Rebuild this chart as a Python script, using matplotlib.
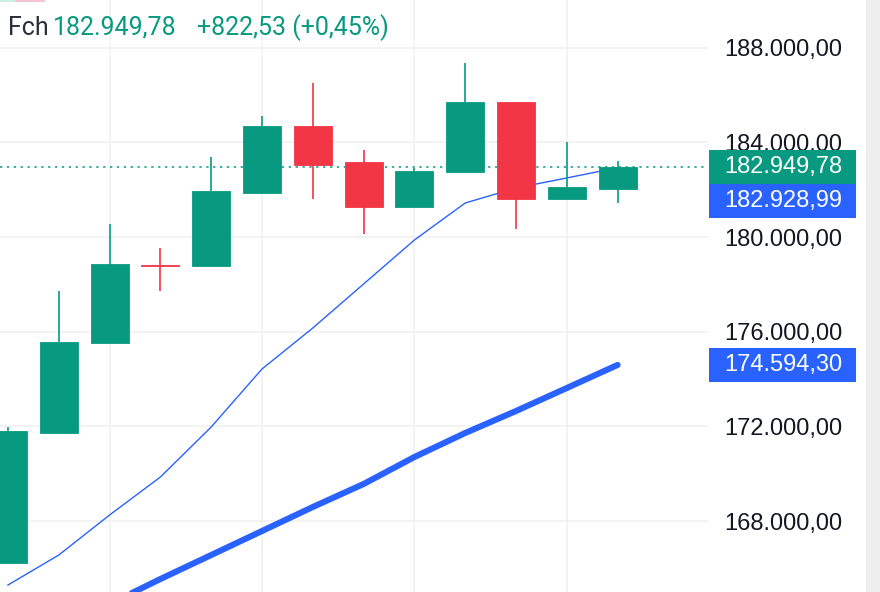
import numpy as np
import matplotlib
matplotlib.use("Agg")
import matplotlib.pyplot as plt
from matplotlib.patches import Rectangle
from matplotlib import transforms

# ---- data ----
opens  = [166225, 171719, 175522, 178800, 178775, 181860, 184691, 183170, 181268, 182747, 185705, 181606, 182029]
closes = [171803, 175564, 178860, 178755, 181944, 184691, 183043, 181268, 182790, 185705, 181606, 182127.25, 182949.78]
highs  = [171972, 177719, 180550, 179536, 183381, 185114, 186508, 183677, 182918, 187353, 185705, 184015, 183212]
lows   = [166225, 171719, 175522, 177719, 178775, 181860, 181606, 180127, 181268, 182747, 180339, 181606, 181437]
ma_fast = [165296, 166563, 168254, 169859, 171972, 174423, 176155, 178015, 179874, 181437, 182071, 182495, 182928.99]
ma_slow = [np.nan, np.nan, 164493, 165549, 166563, 167577, 168592, 169564, 170704, 171719, 172648, 173620, 174594.30]
y_ticks = [168000, 172000, 176000, 180000, 184000, 188000]
y_tick_labels = ["168.000,00", "172.000,00", "176.000,00", "180.000,00", "184.000,00", "188.000,00"]
last_close = 182949.78
header_label = "Fch"
header_price = "182.949,78"
header_change = "+822,53 (+0,45%)"
fast_label = "182.928,99"
slow_label = "174.594,30"
close_label = "182.949,78"

GREEN = "#089981"
RED = "#F23645"
BLUE = "#2962FF"
TXT = "#131722"

W, H = 880, 592
fig = plt.figure(figsize=(W / 100, H / 100), dpi=100)
ax_right_px = 708
ax = fig.add_axes([0, 0, ax_right_px / W, 1])

n = len(opens)
x = np.arange(n)
step_px = 50.8
x0_px = 8
ax.set_xlim(-x0_px / step_px, (ax_right_px - x0_px) / step_px)
ax.set_ylim(165000, 190015)

# grid
ax.set_yticks(y_ticks)
ax.set_yticklabels(y_tick_labels)
ax.set_xticks([2, 5, 8, 11])
ax.set_xticklabels([])
ax.grid(True, color="#f0f0f0", linewidth=1.1)
ax.set_axisbelow(True)
ax.yaxis.tick_right()
ax.tick_params(axis="both", length=0)
ax.tick_params(axis="y", pad=11.5, labelsize=17, labelcolor=TXT)
for lab in ax.get_yticklabels():
    lab.set_fontfamily(["Liberation Sans", "DejaVu Sans"])
for s in ax.spines.values():
    s.set_visible(False)

# MA lines
ax.plot(x, ma_fast, color=BLUE, lw=1.0, zorder=2, solid_joinstyle="round")
ax.plot(x, ma_slow, color=BLUE, lw=4.4, zorder=2, solid_capstyle="round", solid_joinstyle="round")

# candles
o = np.array(opens); c = np.array(closes)
cols = [GREEN if cc >= oo else RED for oo, cc in zip(o, c)]
ax.vlines(x, lows, highs, colors=cols, lw=1.2, zorder=3)
bottoms = np.minimum(o, c)
heights = np.maximum(np.abs(c - o), 40)
ax.bar(x, heights, bottom=bottoms, width=0.75, color=cols, edgecolor=cols, linewidth=0.6, zorder=4)

# last price dotted line
ax.axhline(last_close, color=GREEN, lw=1.1, linestyle=(0, (1.5, 3)), zorder=1)

# price label boxes
bt = transforms.blended_transform_factory(fig.transFigure, ax.transData)
box_h = 34 * (190015 - 165000) / H
bx0 = 709 / W
bw = (856 - 709) / W

def label_box(center, text, color):
    ax.add_patch(Rectangle((bx0, center - box_h / 2), bw, box_h, transform=bt,
                           facecolor=color, edgecolor="none", clip_on=False, zorder=10))
    fig.text(724 / W, center, text, transform=bt, color="white", fontsize=17,
             family=["Liberation Sans", "DejaVu Sans"], ha="left", va="center", zorder=11)

label_box(last_close, close_label, GREEN)
label_box(last_close - box_h, fast_label, BLUE)
label_box(ma_slow[-1], slow_label, BLUE)

# right gray strip
fig.add_artist(Rectangle((866 / W, 0), (W - 866) / W, 1, transform=fig.transFigure,
                         facecolor="#eeeeee", edgecolor="none"))

# top-left cut-off elements
fig.add_artist(Rectangle((0, 1 - 2 / H), 15 / W, 2 / H, transform=fig.transFigure,
                         facecolor="#cfeee8", edgecolor="none"))
fig.add_artist(Rectangle((15 / W, 1 - 2 / H), 30 / W, 2 / H, transform=fig.transFigure,
                         facecolor="#f7c5cf", edgecolor="none"))

# header
hy = 1 - 35 / H
hf = ["Roboto", "DejaVu Sans"]
fig.text(8 / W, hy, header_label, color="#2a2e39", fontsize=18, family=hf, va="baseline")
fig.text(53 / W, hy, header_price, color=GREEN, fontsize=18, family=hf, va="baseline")
fig.text(197 / W, hy, header_change, color=GREEN, fontsize=18, family=hf, va="baseline")

fig.savefig("out.png", dpi=100)
